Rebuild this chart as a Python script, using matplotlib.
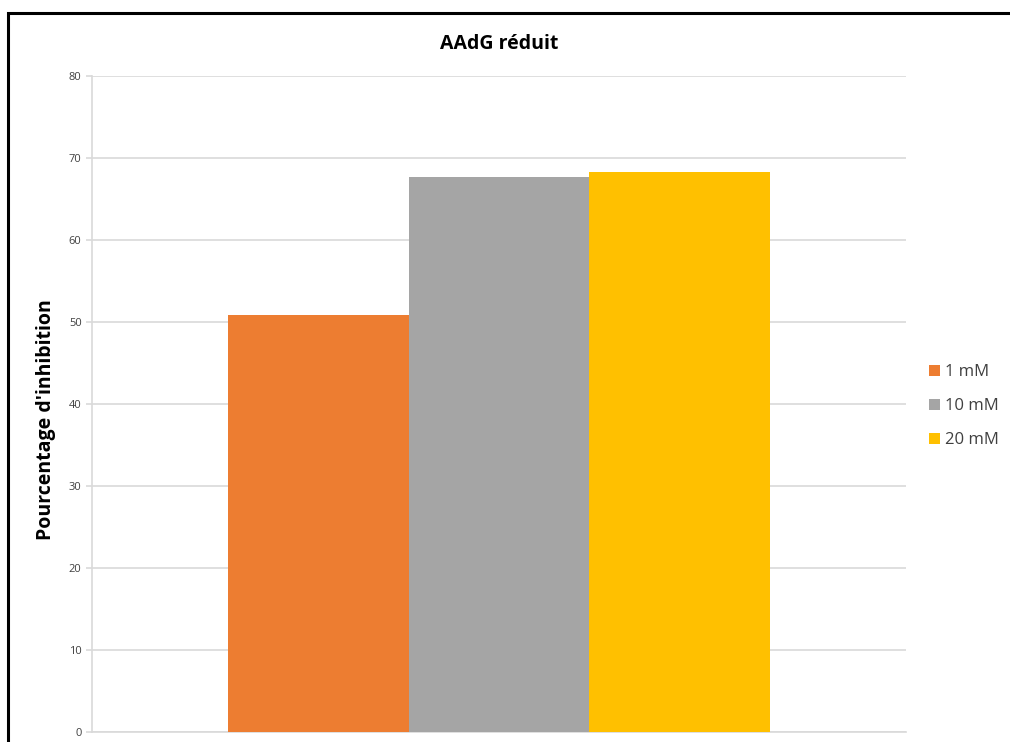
import numpy as np
import matplotlib
matplotlib.use('Agg')
from matplotlib import pyplot as plt
from matplotlib.patches import Rectangle

title = 'AAdG réduit'
ylabel = "Pourcentage d'inhibition"
series = ['1 mM', '10 mM', '20 mM']
values = [50.9, 67.7, 68.3]
colors = ['#ED7D31', '#A5A5A5', '#FFC000']
yticks = [0, 10, 20, 30, 40, 50, 60, 70, 80]

plt.rcParams['font.family'] = ['Open Sans', 'DejaVu Sans']

fig = plt.figure(figsize=(10.1, 7.42), dpi=100)
ax = fig.add_axes([92 / 1010, 10 / 742, (906 - 92) / 1010, (732 - 76) / 742])

width = 0.222
offsets = (np.arange(len(series)) - 1) * width
for off, val, col, lab in zip(offsets, values, colors, series):
    ax.bar(off, val, width=width, color=col, label=lab, zorder=3)

ax.set_xlim(-0.5, 0.5)
ax.set_ylim(0, 80)
ax.set_yticks(yticks)
ax.set_xticks([])
ax.grid(axis='y', color='#D9D9D9', linewidth=1.2, zorder=0)
for side in ['top', 'right']:
    ax.spines[side].set_visible(False)
ax.spines['left'].set_color('#D9D9D9')
ax.spines['bottom'].set_color('#D9D9D9')
ax.spines['left'].set_linewidth(1.2)
ax.spines['bottom'].set_linewidth(1.2)
ax.tick_params(axis='y', colors='#D9D9D9', labelcolor='#404040', labelsize=8, length=4, width=1.2)

ax.set_ylabel(ylabel, fontsize=14, fontweight='bold')
ax.yaxis.set_label_coords(-0.044, 0.476)
fig.text(499 / 1010, 1 - 44 / 742, title, ha='center', va='center', fontsize=14, fontweight='bold')

leg = ax.legend(loc='center left', bbox_to_anchor=(1.012, 0.497), frameon=False, handlelength=0.65,
                handleheight=0.65, handletextpad=0.3, labelspacing=1.08, fontsize=12, borderpad=0.3)
for t in leg.get_texts():
    t.set_color('#404040')

frame = Rectangle((8 / 1010, -0.1), 1.2, 1 - 13 / 742 + 0.1, transform=fig.transFigure,
                  fill=False, edgecolor='black', linewidth=2.2, clip_on=False)
fig.patches.append(frame)

fig.savefig('out.png', dpi=100)
